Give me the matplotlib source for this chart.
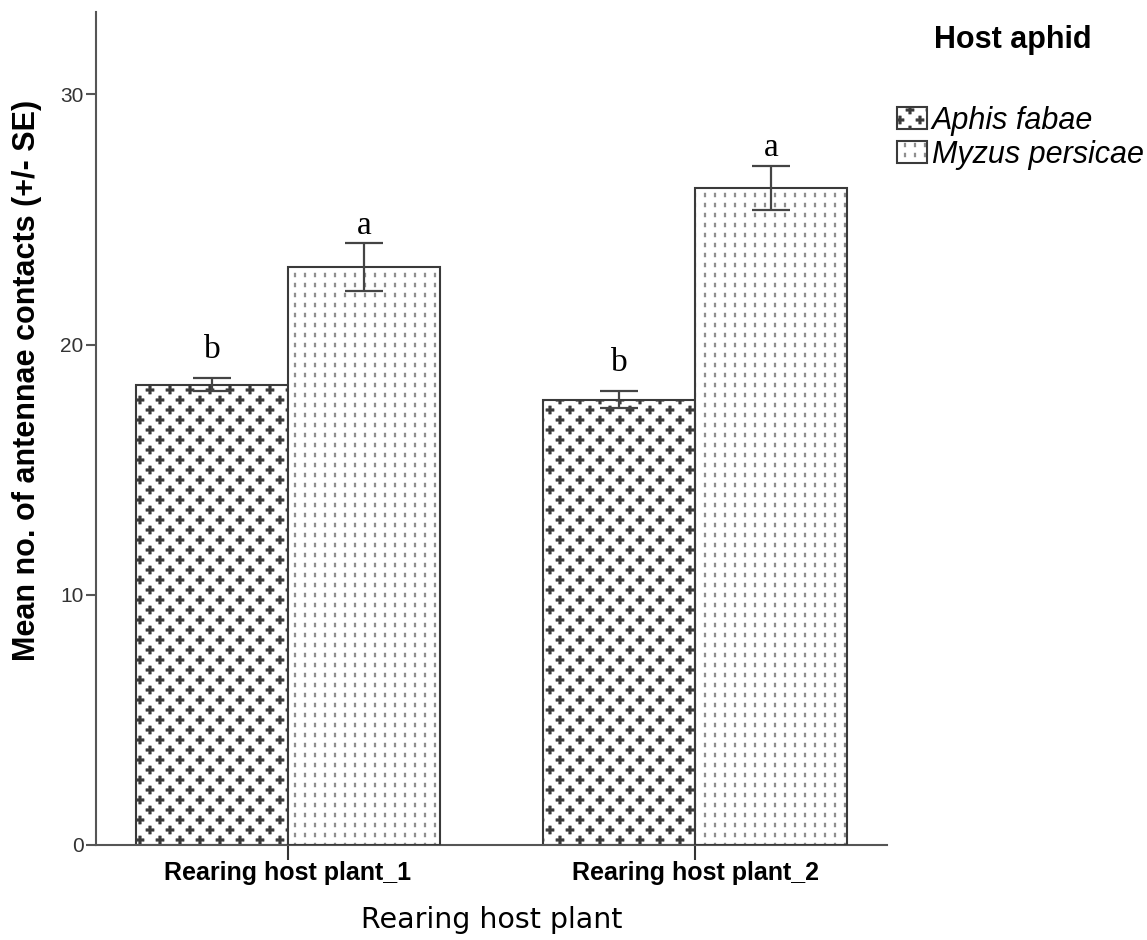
import warnings
import numpy as np
import matplotlib
matplotlib.use("Agg")
import matplotlib.pyplot as plt
import matplotlib.hatch as mhatch
from matplotlib.path import Path
from matplotlib.legend_handler import HandlerTuple

warnings.filterwarnings("ignore")

# data
plants = ["Rearing host plant_1", "Rearing host plant_2"]
aphids = ["Aphis fabae", "Myzus persicae"]
aphis_mean = [18.4, 17.8]
aphis_se = [0.27, 0.35]
myzus_mean = [23.1, 26.25]
myzus_se = [0.95, 0.88]
aphis_letters = ["b", "b"]
myzus_letters = ["a", "a"]


# custom hatches: one tile = 72 pt = 100 px at dpi 100
class PlusHatch(mhatch.HatchPatternBase):
    arm, half = 0.041, 0.013

    def __init__(self, hatch, density):
        self.centres = []
        if "p" in hatch:
            for r in range(-1, 11):
                for c in range(-1, 6):
                    x = (c + 0.5 * (r % 2)) / 5
                    y = r / 10
                    if -0.06 < x < 1.06 and -0.06 < y < 1.06:
                        self.centres.append((x, y))
        self.num_vertices = 13 * len(self.centres)

    def set_vertices_and_codes(self, vertices, codes):
        a, t = self.arm, self.half
        shape = np.array([(t, t), (t, a), (-t, a), (-t, t), (-a, t), (-a, -t), (-t, -t),
                          (-t, -a), (t, -a), (t, -t), (a, -t), (a, t), (t, t)])
        shape_codes = [Path.MOVETO] + [Path.LINETO] * 11 + [Path.CLOSEPOLY]
        for i, (x, y) in enumerate(self.centres):
            vertices[13 * i:13 * i + 13] = shape + (x, y)
            codes[13 * i:13 * i + 13] = shape_codes


class DashHatch(mhatch.HatchPatternBase):
    w, h = 0.009, 0.02

    def __init__(self, hatch, density):
        self.centres = []
        if "d" in hatch:
            for r in range(10):
                for c in range(10):
                    self.centres.append(((c + 0.5) / 10, (r + 0.5) / 10))
        self.num_vertices = 5 * len(self.centres)

    def set_vertices_and_codes(self, vertices, codes):
        w, h = self.w, self.h
        shape = np.array([(-w, -h), (w, -h), (w, h), (-w, h), (-w, -h)])
        shape_codes = [Path.MOVETO] + [Path.LINETO] * 3 + [Path.CLOSEPOLY]
        for i, (x, y) in enumerate(self.centres):
            vertices[5 * i:5 * i + 5] = shape + (x, y)
            codes[5 * i:5 * i + 5] = shape_codes


mhatch._hatch_types.append(PlusHatch)
mhatch._hatch_types.append(DashHatch)

plt.rcParams["hatch.linewidth"] = 0.3
plt.rcParams["font.family"] = ["Liberation Sans", "DejaVu Sans"]

fig = plt.figure(figsize=(11.47, 9.4), dpi=100)
ax = fig.add_axes([96 / 1147, 95 / 940, 791 / 1147, 832.7 / 940])

x = np.arange(len(plants))
w = 0.3735
edge = "#3a3a3a"

b1 = ax.bar(x - w / 2, aphis_mean, w, color="white", edgecolor=edge, linewidth=1.5,
            hatch="p", zorder=2)
b2 = ax.bar(x + w / 2, myzus_mean, w, color="white", edgecolor="#888888", linewidth=0,
            hatch="d", zorder=2)
b2e = ax.bar(x + w / 2, myzus_mean, w, fill=False, edgecolor=edge, linewidth=1.5, zorder=3)

ax.errorbar(x - w / 2, aphis_mean, yerr=aphis_se, fmt="none", ecolor="#444444",
            elinewidth=1.6, capsize=13.5, capthick=1.6, zorder=4)
ax.errorbar(x + w / 2, myzus_mean, yerr=myzus_se, fmt="none", ecolor="#444444",
            elinewidth=1.6, capsize=13.5, capthick=1.6, zorder=4)

# significance letters
letter_gap = {"a": 7, "b": 14}
for xs, means, ses, letters in [(x - w / 2, aphis_mean, aphis_se, aphis_letters),
                                (x + w / 2, myzus_mean, myzus_se, myzus_letters)]:
    for xi, m, s, lt in zip(xs, means, ses, letters):
        ax.annotate(lt, (xi, m + s), xytext=(0, letter_gap[lt]), textcoords="offset points",
                    ha="center", va="baseline", fontsize=24, family="Liberation Serif")

ax.set_xlim(-0.4717, 1.4717)
ax.set_ylim(0, 33.28)
ax.set_yticks([0, 10, 20, 30])
ax.set_xticks(x)
ax.set_xticklabels(plants, fontsize=18, fontweight="bold")

for side in ["top", "right"]:
    ax.spines[side].set_visible(False)
for side in ["left", "bottom"]:
    ax.spines[side].set_color("#555555")
    ax.spines[side].set_linewidth(1.5)

ax.tick_params(axis="y", length=7, width=1.5, color="#555555", labelsize=15,
               labelcolor="#333333", pad=2)
ax.tick_params(axis="x", length=11, width=1.5, color="#333333", pad=0.5)

ax.set_xlabel("Rearing host plant", fontsize=20.5, family="DejaVu Sans", labelpad=15)
ax.set_ylabel("Mean no. of antennae contacts (+/- SE)", fontsize=22, fontweight="bold")
ax.yaxis.set_label_coords(-0.068, 0.558)

# legend
fig.text(1013 / 1147, 900 / 940, "Host aphid", fontsize=22, fontweight="bold",
         ha="center", va="center")
fig.legend([b1, (b2, b2e)], aphids, loc="upper left", bbox_to_anchor=(897 / 1147, 834 / 940),
           frameon=False, borderpad=0, borderaxespad=0,
           prop={"style": "italic", "size": 22}, handlelength=0.98, handleheight=0.72,
           handletextpad=0.16, labelspacing=0.12,
           handler_map={tuple: HandlerTuple(ndivide=1, pad=0)})

plt.savefig("out.png", dpi=100)
